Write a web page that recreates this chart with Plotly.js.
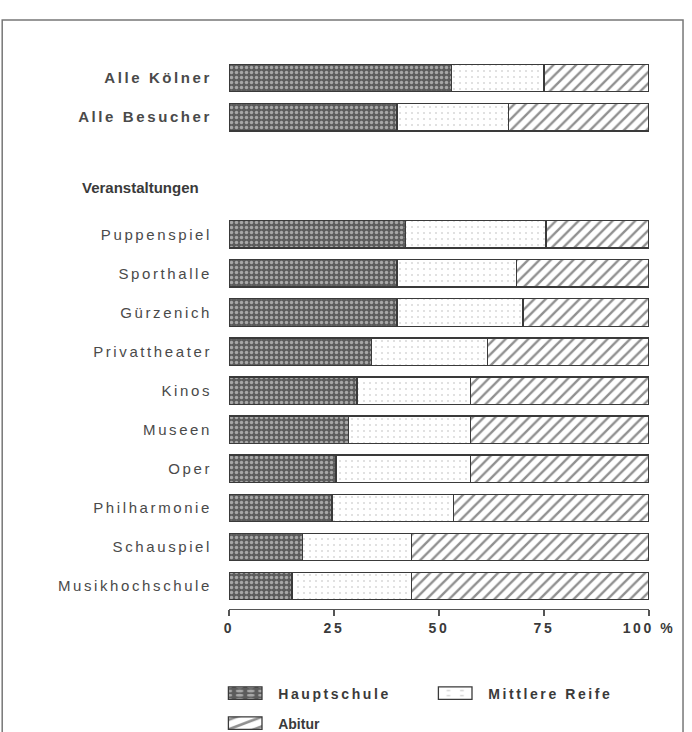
<!DOCTYPE html>
<html>
<head>
<meta charset="utf-8">
<script src="https://cdn.plot.ly/plotly-3.0.1.min.js"></script>
<style>
  html, body { margin: 0; padding: 0; background: #fff; }
  #chart { width: 692px; height: 732px; }
  .ytick text, .xtick text, .legendtext { letter-spacing: 2.6px; }
  .legendpoints path { transform-box: fill-box; transform-origin: center; transform: translate(33px, 0px) scale(2.8, 1.05); vector-effect: non-scaling-stroke; }
</style>
</head>
<body>
<div id="chart"></div>
<script>
// ---- data ----
const categories = ["Alle Kölner", "Alle Besucher", "Puppenspiel", "Sporthalle", "Gürzenich",
  "Privattheater", "Kinos", "Museen", "Oper", "Philharmonie", "Schauspiel", "Musikhochschule"];
const boldCategories = ["Alle Kölner", "Alle Besucher"];
const groupLabel = "Veranstaltungen";
const hauptschule   = [53, 40, 42, 40, 40, 34, 30.5, 28.5, 25.5, 24.5, 17.5, 15];
const mittlereReife = [22, 26.5, 33.5, 28.5, 30, 27.5, 27, 29, 32, 29, 26, 28.5];
const abitur        = [25, 33.5, 24.5, 31.5, 30, 38.5, 42.5, 42.5, 42.5, 46.5, 56.5, 56.5];
const seriesNames = ["Hauptschule", "Mittlere Reife", "Abitur"];
const xTickVals = [0, 25, 50, 75, 100];
const xTickText = ["0", "25", "50", "75", "100 %"];

// slot index: two summary rows, then a gap + group heading, then events
const slot = categories.map((c, i) => (i < 2 ? i : i + 2));
const headingSlot = 2.79;

const lineStyle = { color: "#3a3a3a", width: 1.3 };
function bar(name, vals, color, pattern, legendId) {
  return {
    type: "bar", orientation: "h", name: "<b>" + name + "</b>",
    x: vals, y: slot, width: 0.7, legend: legendId,
    marker: { color: color, line: lineStyle, pattern: pattern },
    hoverinfo: "skip"
  };
}

const traces = [
  bar(seriesNames[0], hauptschule, "#5c5c5c",
      { shape: ".", fgcolor: "#f2f2f2", size: 5, solidity: 0.38, fillmode: "overlay" }, "legend"),
  bar(seriesNames[1], mittlereReife, "#ffffff",
      { shape: ".", fgcolor: "#b0b0b0", size: 6, solidity: 0.09, fillmode: "overlay" }, "legend"),
  bar(seriesNames[2], abitur, "#ffffff",
      { shape: "/", fgcolor: "#222222", size: 8, solidity: 0.3, fillmode: "overlay" }, "legend2")
];

const tickText = categories.map(c => boldCategories.includes(c)
  ? "<b>" + c + "</b>" : c);

const legendBase = {
  orientation: "h", xanchor: "left", yanchor: "top",
  entrywidth: 139, entrywidthmode: "pixels", traceorder: "normal",
  font: { size: 14, color: "#3a3a3a" }, itemwidth: 56, bgcolor: "rgba(0,0,0,0)"
};

const layout = {
  width: 692, height: 732,
  margin: { l: 229, r: 43, t: 50, b: 123, pad: 0, autoexpand: false },
  paper_bgcolor: "#ffffff", plot_bgcolor: "#ffffff",
  barmode: "stack",
  bargap: 0.3,
  font: { family: "Liberation Sans, Arial, sans-serif", color: "#444" },
  xaxis: {
    range: [0, 100], tickvals: xTickVals, ticktext: xTickText,
    showgrid: false, zeroline: false, showline: true, linecolor: "#555", linewidth: 1.3,
    ticks: "outside", ticklen: 6, tickcolor: "#555", tickwidth: 1.3,
    tickfont: { size: 14, weight: "bold", color: "#3a3a3a" },
    fixedrange: true, automargin: false
  },
  yaxis: {
    range: [13.59, -0.72], tickvals: slot, ticktext: tickText,
    showgrid: false, zeroline: false, showline: false, ticks: "", ticklabelstandoff: 16,
    tickfont: { size: 15, color: "#4a4a4a" },
    fixedrange: true, automargin: false
  },
  showlegend: true,
  legend: Object.assign({}, legendBase, { x: -0.040, y: -0.1225 }),
  legend2: Object.assign({}, legendBase, { x: -0.040, y: -0.1762 }),
  annotations: [{
    text: "<b>" + groupLabel + "</b>", xref: "paper", yref: "y",
    x: -0.355, y: headingSlot, xanchor: "left", yanchor: "middle", showarrow: false,
    font: { size: 15, color: "#3a3a3a" }
  }],
  shapes: [{
    type: "rect", xref: "paper", yref: "paper",
    x0: -0.540, x1: 1.081, y0: -0.26, y1: 1.0537,
    line: { color: "#777", width: 1.5 }, fillcolor: "rgba(0,0,0,0)", layer: "below"
  }]
};

Plotly.newPlot("chart", traces, layout, { displayModeBar: false, staticPlot: true });
</script>
</body>
</html>
